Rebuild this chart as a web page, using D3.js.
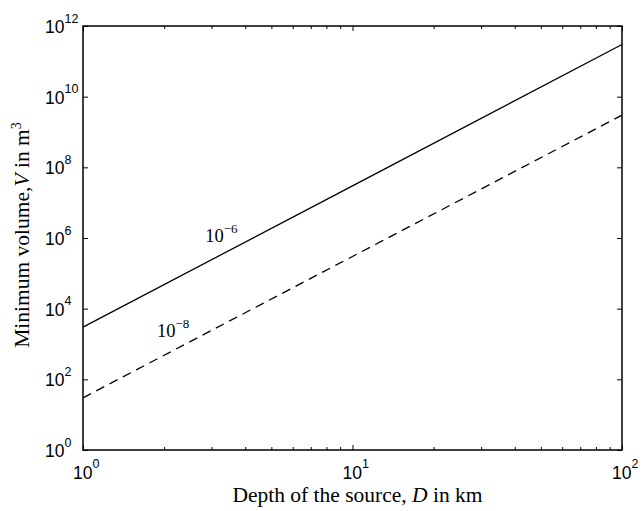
<!DOCTYPE html>
<html>
<head>
<meta charset="utf-8">
<script src="https://cdn.jsdelivr.net/npm/d3@7"></script>
<style>
  html, body { margin: 0; padding: 0; background: #fff; }
  svg { display: block; }
</style>
</head>
<body>
<svg id="chart" width="644" height="511"></svg>
<script>
// ---- data ----
const depthKm = [1, 10, 100];
const volume1e6 = [3.0e3, 3.0e7, 3.0e11];   // solid line, label 10^-6
const volume1e8 = [3.0e1, 3.0e5, 3.0e9];    // dashed line, label 10^-8
const xTickValues = [1, 10, 100];
const xTickExponents = ["0", "1", "2"];
const yTickValues = [1, 1e2, 1e4, 1e6, 1e8, 1e10, 1e12];
const yTickExponents = ["0", "2", "4", "6", "8", "10", "12"];
const lineLabels = [
  { base: "10", exp: "\u22126", D: 2.84, V: 7.9e5 },
  { base: "10", exp: "\u22128", D: 1.88, V: 1.6e3 }
];

const svg = d3.select("#chart");
const margin = { left: 83, top: 26, right: 22, bottom: 61 };
const W = 644, H = 511;
const x = d3.scaleLog().domain([1, 100]).range([margin.left, W - margin.right]);
const y = d3.scaleLog().domain([1, 1e12]).range([H - margin.bottom, margin.top]);

const tickFont = "'Liberation Sans', Arial, Helvetica, sans-serif";
const serif = "'Liberation Serif', 'Times New Roman', Times, serif";

// minor x ticks
const xMinor = [];
for (let d = 1; d < 100; d *= 10) for (let k = 2; k <= 9; k++) xMinor.push(d * k);

function styleAxis(g) {
  g.select(".domain").remove();
  g.selectAll("line").attr("stroke", "#000").attr("stroke-width", 1);
  g.selectAll("text").remove();
}

// bottom & top major/minor ticks (inward)
const y0 = y(1), yTop = y(1e12);
svg.append("g").attr("transform", `translate(0,${y0})`)
  .call(d3.axisBottom(x).tickValues(xTickValues).tickSize(-5).tickFormat(""))
  .call(styleAxis);
svg.append("g").attr("transform", `translate(0,${y0})`)
  .call(d3.axisBottom(x).tickValues(xMinor).tickSize(-3).tickFormat(""))
  .call(styleAxis);
svg.append("g").attr("transform", `translate(0,${yTop})`)
  .call(d3.axisTop(x).tickValues(xTickValues).tickSize(-5).tickFormat(""))
  .call(styleAxis);
svg.append("g").attr("transform", `translate(0,${yTop})`)
  .call(d3.axisTop(x).tickValues(xMinor).tickSize(-3).tickFormat(""))
  .call(styleAxis);
// left & right
const xL = x(1), xR = x(100);
svg.append("g").attr("transform", `translate(${xL},0)`)
  .call(d3.axisLeft(y).tickValues(yTickValues).tickSize(-5).tickFormat(""))
  .call(styleAxis);
svg.append("g").attr("transform", `translate(${xR},0)`)
  .call(d3.axisRight(y).tickValues(yTickValues).tickSize(-5).tickFormat(""))
  .call(styleAxis);

// frame
svg.append("rect")
  .attr("x", xL).attr("y", yTop)
  .attr("width", xR - xL).attr("height", y0 - yTop)
  .attr("fill", "none").attr("stroke", "#000").attr("stroke-width", 1.5);

// tick labels
const xLab = svg.append("g").attr("font-family", tickFont).attr("fill", "#000");
xTickValues.forEach((v, i) => {
  const t = xLab.append("text").attr("x", x(v) - 10).attr("y", y0 + 29).attr("font-size", 17.5);
  t.append("tspan").text("10");
  t.append("tspan").attr("dy", -11).attr("font-size", 12.5).text(xTickExponents[i]);
});
const yLab = svg.append("g").attr("font-family", tickFont).attr("fill", "#000");
yTickValues.forEach((v, i) => {
  const t = yLab.append("text").attr("x", 45).attr("y", y(v) + 7).attr("font-size", 17.5);
  t.append("tspan").text("10");
  t.append("tspan").attr("dy", -10.5).attr("font-size", 12.5).text(yTickExponents[i]);
});

// lines
const line = d3.line().x(d => x(d[0])).y(d => y(d[1]));
svg.append("path")
  .datum(depthKm.map((d, i) => [d, volume1e6[i]]))
  .attr("d", line).attr("fill", "none").attr("stroke", "#000").attr("stroke-width", 1.3);
svg.append("path")
  .datum(depthKm.map((d, i) => [d, volume1e8[i]]))
  .attr("d", line).attr("fill", "none").attr("stroke", "#000").attr("stroke-width", 1.3)
  .attr("stroke-dasharray", "9,6");

// line labels
lineLabels.forEach(l => {
  const t = svg.append("text").attr("x", x(l.D)).attr("y", y(l.V))
    .attr("font-family", serif).attr("font-size", 18.5).attr("fill", "#000");
  t.append("tspan").text(l.base);
  t.append("tspan").attr("dy", -9).attr("font-size", 13).text(l.exp);
});

// axis titles
const xt = svg.append("text")
  .attr("x", (xL + xR) / 2 + 5).attr("y", 502)
  .attr("text-anchor", "middle")
  .attr("font-family", serif).attr("font-size", 21.5).attr("fill", "#000");
xt.append("tspan").text("Depth of the source, ");
xt.append("tspan").attr("font-style", "italic").text("D");
xt.append("tspan").text(" in km");

const yt = svg.append("text")
  .attr("transform", `translate(29,${(yTop + y0) / 2 - 3}) rotate(-90)`)
  .attr("text-anchor", "middle")
  .attr("font-family", serif).attr("font-size", 21.5).attr("fill", "#000");
yt.append("tspan").text("Minimum volume,");
yt.append("tspan").attr("font-style", "italic").text("V");
yt.append("tspan").text(" in m");
yt.append("tspan").attr("dy", -8).attr("font-size", 14).text("3");
</script>
</body>
</html>
